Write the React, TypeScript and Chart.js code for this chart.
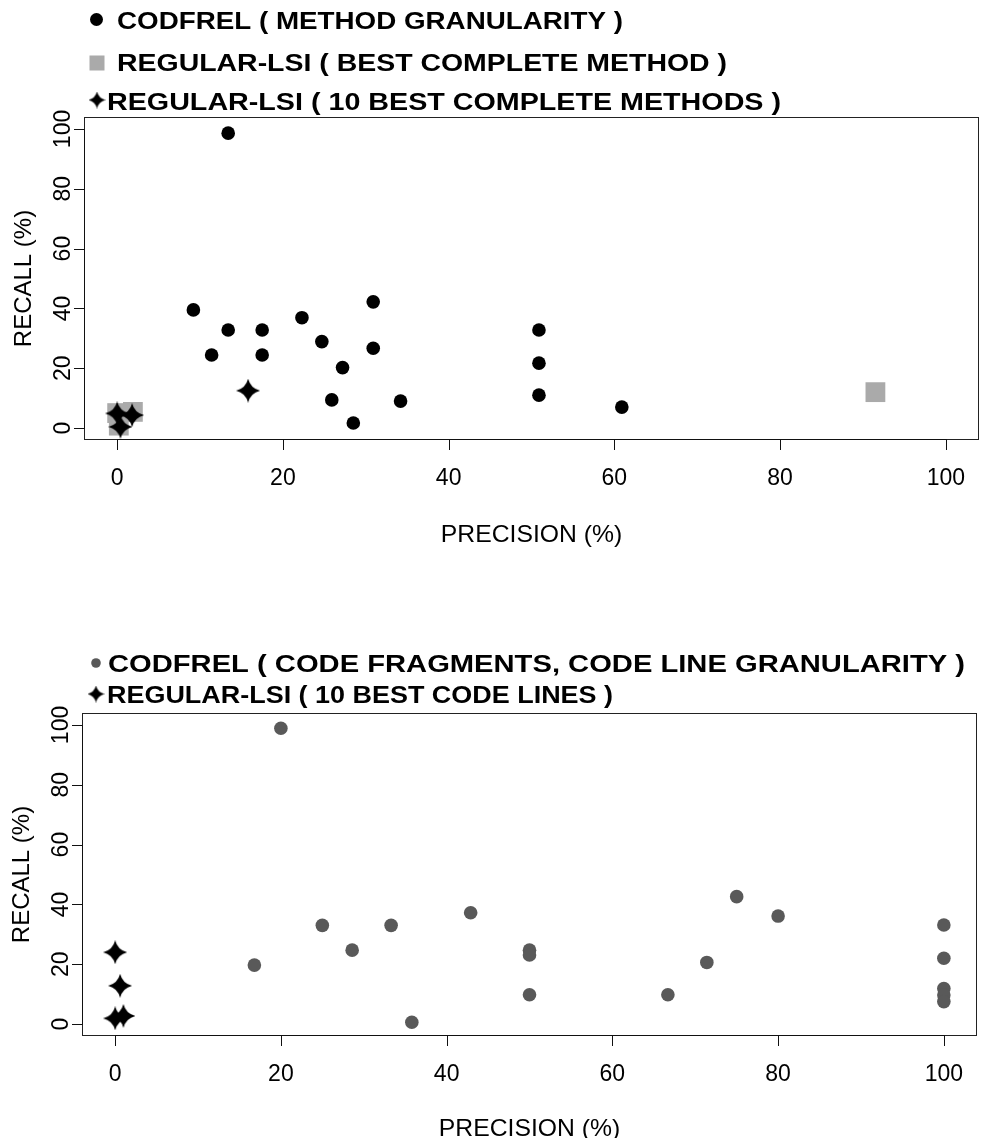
import React, { useEffect, useRef } from "react";
import { Chart, registerables } from "chart.js";

Chart.register(...registerables);

// ---------- data ----------
const tickValues = [0, 20, 40, 60, 80, 100];
const tickLabels = ["0", "20", "40", "60", "80", "100"];

// Top panel: method granularity
const topCodfrelPrecision = [13.4, 9.2, 13.4, 17.5, 11.4, 17.5, 22.3, 24.7, 27.2, 25.9, 28.5, 30.9, 30.9, 34.2, 50.9, 50.9, 50.9, 60.9];
const topCodfrelRecall = [98.6, 39.5, 32.8, 32.8, 24.4, 24.4, 36.9, 28.9, 20.2, 9.4, 1.7, 42.2, 26.7, 9.0, 32.8, 21.7, 11.0, 7.0];
const topBestMethodPrecision = [0.0, 1.9, 0.2, 91.5];
const topBestMethodRecall = [5.0, 5.4, 0.8, 12.0];
const topTenBestPrecision = [0.0, 1.8, 0.4, 15.8];
const topTenBestRecall = [4.9, 4.3, 0.4, 12.5];

// Bottom panel: code line granularity
const botCodfrelPrecision = [20.0, 16.8, 25.0, 28.6, 33.3, 42.9, 35.8, 50.0, 50.0, 50.0, 66.7, 71.4, 75.0, 80.0, 100.0, 100.0, 100.0, 100.0, 100.0];
const botCodfrelRecall = [98.9, 19.7, 33.0, 24.7, 33.0, 37.2, 0.6, 24.7, 23.1, 9.8, 9.8, 20.6, 42.6, 36.1, 33.1, 22.0, 11.9, 9.7, 7.5];
const botTenBestPrecision = [0.0, 0.6, 0.0, 1.0];
const botTenBestRecall = [24.0, 12.8, 1.9, 2.7];

const topLegendLabels = [
  "CODFREL ( METHOD GRANULARITY )",
  "REGULAR-LSI ( BEST COMPLETE METHOD )",
  "REGULAR-LSI ( 10 BEST COMPLETE METHODS )",
];
const botLegendLabels = [
  "CODFREL ( CODE FRAGMENTS, CODE LINE GRANULARITY )",
  "REGULAR-LSI ( 10 BEST CODE LINES )",
];

const xTitle = "PRECISION (%)";
const yTitle = "RECALL (%)";

// ---------- styling ----------
const W = 990;
const H = 569;
const FONT = '"Liberation Sans", Arial, Helvetica, sans-serif';
const DOT_BLACK = "#000000";
const DOT_GRAY = "#595959";
const SQUARE_GRAY = "#AAAAAA";

function zip(xs: number[], ys: number[]) {
  return xs.map((x, i) => ({ x, y: ys[i] }));
}

function makeStar(size: number, color: string) {
  const c = document.createElement("canvas");
  c.width = size;
  c.height = size;
  const ctx = c.getContext("2d")!;
  const r = size / 2;
  const k = size * 0.1;
  ctx.translate(r, r);
  ctx.beginPath();
  ctx.moveTo(0, -r);
  ctx.quadraticCurveTo(k, -k, r, 0);
  ctx.quadraticCurveTo(k, k, 0, r);
  ctx.quadraticCurveTo(-k, k, -r, 0);
  ctx.quadraticCurveTo(-k, -k, 0, -r);
  ctx.closePath();
  ctx.fillStyle = color;
  ctx.fill();
  return c;
}

function drawText(
  ctx: CanvasRenderingContext2D,
  text: string,
  x: number,
  y: number,
  font: string,
  size: number,
  sx: number,
  align: CanvasTextAlign,
  rotate = 0,
  fitWidth = 0
) {
  ctx.save();
  ctx.font = font;
  let scale = sx;
  if (fitWidth > 0) {
    const w = ctx.measureText(text).width;
    if (w > 0) scale = fitWidth / w;
  }
  ctx.translate(x, y);
  if (rotate) ctx.rotate(rotate);
  ctx.scale(scale, 1);
  ctx.fillStyle = "#000";
  ctx.textAlign = align;
  ctx.textBaseline = "alphabetic";
  ctx.fillText(text, 0, size * 0.358);
  ctx.restore();
}

const rAxesPlugin = {
  id: "rAxes",
  beforeDatasetsDraw(chart: any) {
    const { ctx, chartArea: a } = chart;
    ctx.save();
    ctx.strokeStyle = "#222";
    ctx.lineWidth = 1;
    ctx.strokeRect(a.left + 0.5, a.top + 0.5, a.right - a.left - 1, a.bottom - a.top - 1);
    ctx.restore();
  },
  afterDraw(chart: any, _args: any, opts: any) {
    const { ctx, chartArea: a } = chart;
    const xs = chart.scales.x;
    const ys = chart.scales.y;
    ctx.save();
    ctx.strokeStyle = "#111";
    ctx.lineWidth = 1;
    const x0 = Math.round(xs.getPixelForValue(tickValues[0])) + 0.5;
    const x1 = Math.round(xs.getPixelForValue(tickValues[tickValues.length - 1])) + 0.5;
    const y0 = Math.round(ys.getPixelForValue(tickValues[0])) + 0.5;
    const y1 = Math.round(ys.getPixelForValue(tickValues[tickValues.length - 1])) + 0.5;
    ctx.beginPath();
    ctx.moveTo(x0, a.bottom - 0.5);
    ctx.lineTo(x1, a.bottom - 0.5);
    ctx.moveTo(a.left + 0.5, y0);
    ctx.lineTo(a.left + 0.5, y1);
    tickValues.forEach((v) => {
      const px = Math.round(xs.getPixelForValue(v)) + 0.5;
      ctx.moveTo(px, a.bottom - 0.5);
      ctx.lineTo(px, a.bottom + 10);
      const py = Math.round(ys.getPixelForValue(v)) + 0.5;
      ctx.moveTo(a.left + 0.5, py);
      ctx.lineTo(a.left - 10, py);
    });
    ctx.stroke();
    ctx.restore();

    const tickFont = `${opts.tickSize}px ${FONT}`;
    tickValues.forEach((v, i) => {
      const px = xs.getPixelForValue(v);
      drawText(ctx, tickLabels[i], px, a.bottom + 37, tickFont, opts.tickSize, 1, "center");
      const py = ys.getPixelForValue(v);
      drawText(ctx, tickLabels[i], a.left - 22, py, tickFont, opts.tickSize, 1, "center", -Math.PI / 2);
    });
    const titleFont = `${opts.titleSize}px ${FONT}`;
    drawText(ctx, xTitle, (a.left + a.right) / 2, a.bottom + opts.xTitleOffset, titleFont, opts.titleSize, 1.03, "center");
    drawText(ctx, yTitle, a.left - 62, (a.top + a.bottom) / 2, titleFont, opts.titleSize, 1.0, "center", -Math.PI / 2);

    const legFont = `bold ${opts.legendSize}px ${FONT}`;
    opts.legend.forEach((e: any) => {
      ctx.save();
      if (e.shape === "circle") {
        ctx.fillStyle = e.color;
        ctx.beginPath();
        ctx.arc(e.gx, e.gy, e.gs, 0, Math.PI * 2);
        ctx.fill();
      } else if (e.shape === "rect") {
        ctx.fillStyle = e.color;
        ctx.fillRect(e.gx - e.gs / 2, e.gy - e.gs / 2, e.gs, e.gs);
      } else if (e.shape === "star") {
        const img = makeStar(e.gs, e.color);
        ctx.drawImage(img, e.gx - e.gs / 2, e.gy - e.gs / 2);
      }
      ctx.restore();
      drawText(ctx, e.text, e.tx, e.ty, legFont, opts.legendSize, 1, "left", 0, e.tw);
    });
  },
};

type Box = { left: number; right: number; top: number; bottom: number };

function Panel({ datasets, box, axesOpts }: { datasets: any[]; box: Box; axesOpts: any }) {
  const ref = useRef<HTMLCanvasElement>(null);
  useEffect(() => {
    const chart = new Chart(ref.current!, {
      type: "scatter",
      data: { datasets },
      options: {
        responsive: false,
        animation: false,
        devicePixelRatio: 1,
        events: [],
        layout: {
          autoPadding: false,
          padding: { top: box.top, right: W - box.right, left: 0, bottom: 0 },
        },
        plugins: {
          legend: { display: false },
          tooltip: { enabled: false },
          rAxes: axesOpts,
        } as any,
        scales: {
          x: {
            type: "linear",
            min: -4,
            max: 104,
            afterBuildTicks: (s: any) => {
              s.ticks = tickValues.map((v) => ({ value: v }));
            },
            afterFit: (s: any) => {
              s.height = H - box.bottom;
            },
            ticks: { display: false },
            grid: { display: false },
            border: { display: false },
          },
          y: {
            type: "linear",
            min: -4,
            max: 104,
            afterBuildTicks: (s: any) => {
              s.ticks = tickValues.map((v) => ({ value: v }));
            },
            afterFit: (s: any) => {
              s.width = box.left;
            },
            ticks: { display: false },
            grid: { display: false },
            border: { display: false },
          },
        },
      },
      plugins: [rAxesPlugin],
    });
    return () => chart.destroy();
  }, []);
  return <canvas ref={ref} width={W} height={H} style={{ display: "block", width: W, height: H }} />;
}

export default function App() {
  const bigStar = makeStar(24, "#000");

  const topDatasets = [
    {
      label: topLegendLabels[2],
      data: zip(topTenBestPrecision, topTenBestRecall),
      pointStyle: bigStar,
      order: 0,
    },
    {
      label: topLegendLabels[0],
      data: zip(topCodfrelPrecision, topCodfrelRecall),
      pointStyle: "circle",
      pointRadius: 6.8,
      backgroundColor: DOT_BLACK,
      borderWidth: 0,
      order: 1,
    },
    {
      label: topLegendLabels[1],
      data: zip(topBestMethodPrecision, topBestMethodRecall),
      pointStyle: "rect",
      pointRadius: 14,
      backgroundColor: SQUARE_GRAY,
      borderWidth: 0,
      order: 2,
    },
  ];

  const botDatasets = [
    {
      label: botLegendLabels[1],
      data: zip(botTenBestPrecision, botTenBestRecall),
      pointStyle: bigStar,
      order: 0,
    },
    {
      label: botLegendLabels[0],
      data: zip(botCodfrelPrecision, botCodfrelRecall),
      pointStyle: "circle",
      pointRadius: 6.8,
      backgroundColor: DOT_GRAY,
      borderWidth: 0,
      order: 1,
    },
  ];

  const common = { tickSize: 23, titleSize: 24, legendSize: 24 };

  const topAxes = {
    ...common,
    xTitleOffset: 93,
    legend: [
      { shape: "circle", color: DOT_BLACK, gx: 96.5, gy: 19.5, gs: 6.5, text: topLegendLabels[0], tx: 117, ty: 20, tw: 506 },
      { shape: "rect", color: SQUARE_GRAY, gx: 97, gy: 63, gs: 15, text: topLegendLabels[1], tx: 117, ty: 62, tw: 610 },
      { shape: "star", color: "#000", gx: 97, gy: 100, gs: 17, text: topLegendLabels[2], tx: 107, ty: 101.5, tw: 674 },
    ],
  };
  const botAxes = {
    ...common,
    xTitleOffset: 91,
    legend: [
      { shape: "circle", color: DOT_GRAY, gx: 96, gy: 94, gs: 4.8, text: botLegendLabels[0], tx: 108, ty: 94, tw: 857 },
      { shape: "star", color: "#000", gx: 96, gy: 125, gs: 17, text: botLegendLabels[1], tx: 107, ty: 125, tw: 506 },
    ],
  };

  return (
    <div style={{ position: "absolute", left: 0, top: 0, width: W, height: 2 * H, background: "#fff" }}>
      <Panel datasets={topDatasets} box={{ left: 84, right: 979, top: 117, bottom: 440 }} axesOpts={topAxes} />
      <Panel datasets={botDatasets} box={{ left: 82, right: 977, top: 144, bottom: 467 }} axesOpts={botAxes} />
    </div>
  );
}
